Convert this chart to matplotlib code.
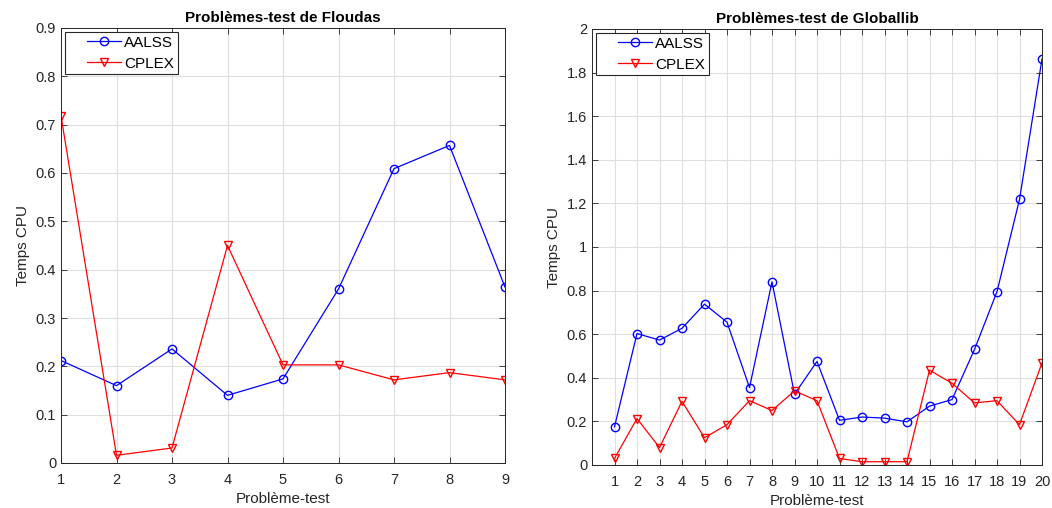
import matplotlib
matplotlib.use('Agg')
import matplotlib.pyplot as plt
from matplotlib.legend_handler import HandlerLine2D

plt.rcParams['font.family'] = ['Liberation Sans', 'DejaVu Sans']
plt.rcParams['font.size'] = 10

# Floudas test problems
floudas_x = list(range(1, 10))
floudas_aalss = [0.212, 0.160, 0.236, 0.140, 0.174, 0.360, 0.609, 0.657, 0.364]
floudas_cplex = [0.718, 0.016, 0.031, 0.450, 0.203, 0.203, 0.172, 0.187, 0.172]

# Globallib test problems
glob_x = list(range(1, 21))
glob_aalss = [0.175, 0.603, 0.573, 0.627, 0.738, 0.655, 0.355, 0.840, 0.325, 0.475,
              0.205, 0.220, 0.215, 0.198, 0.270, 0.300, 0.530, 0.795, 1.218, 1.862]
glob_cplex = [0.030, 0.213, 0.080, 0.292, 0.125, 0.185, 0.295, 0.250, 0.340, 0.295,
              0.030, 0.015, 0.015, 0.015, 0.435, 0.375, 0.285, 0.295, 0.185, 0.468]

W, H = 1052, 508
fig = plt.figure(figsize=(W / 100, H / 100), dpi=100)
ax1 = fig.add_axes([61 / W, 1 - 463 / H, (505 - 61) / W, (463 - 28) / H])
ax2 = fig.add_axes([592 / W, 1 - 465 / H, (1042 - 592) / W, (465 - 29) / H])

tick_col = '#262626'


class ShortLine(HandlerLine2D):
    # matlab style: line drawn in the right part of the handle box
    def create_artists(self, legend, orig, xdescent, ydescent, width, height,
                       fontsize, trans):
        arts = super().create_artists(legend, orig, xdescent, ydescent, width,
                                      height, fontsize, trans)
        x0 = -xdescent + 0.36 * width
        x1 = -xdescent + width
        for a in arts:
            n = len(a.get_xdata())
            if n == 3:
                a.set_xdata([x0, (x0 + x1) / 2, x1])
            elif n == 2:
                a.set_xdata([x0, x1])
            else:
                a.set_xdata([(x0 + x1) / 2] * n)
        return arts


def style(ax):
    ax.grid(True, color='#dfdfdf', linewidth=0.8)
    ax.set_axisbelow(True)
    ax.tick_params(direction='in', top=True, right=True, colors=tick_col,
                   labelsize=10.5, length=4, width=0.6)
    ax.tick_params(axis='x', pad=7)
    for s in ax.spines.values():
        s.set_color(tick_col)
        s.set_linewidth(0.7)
    ax.set_ylabel('Temps CPU', color=tick_col, fontsize=11)
    ax.set_xlabel('Problème-test', color=tick_col, fontsize=11, labelpad=4)
    leg = ax.legend(loc='upper left', fancybox=False, framealpha=1,
                    edgecolor='#262626', fontsize=11, borderaxespad=0.25,
                    handlelength=3.4, handletextpad=0.25, borderpad=0.25,
                    labelspacing=0.45, handler_map={plt.Line2D: ShortLine()})
    leg.get_frame().set_linewidth(0.8)


ax1.plot(floudas_x, floudas_aalss, color='blue', marker='o', mfc='none',
         ms=6, lw=0.9, label='AALSS')
ax1.plot(floudas_x, floudas_cplex, color='red', marker='v', mfc='none',
         ms=6, lw=0.9, label='CPLEX')
ax1.set_xlim(1, 9)
ax1.set_ylim(0, 0.9)
ax1.set_xticks(floudas_x)
ax1.set_yticks([i / 10 for i in range(10)])
ax1.set_yticklabels(['0'] + ['%.1f' % (i / 10) for i in range(1, 10)])
ax1.set_title('Problèmes-test de Floudas', fontweight='bold', fontsize=11, pad=4)
style(ax1)

ax2.plot(glob_x, glob_aalss, color='blue', marker='o', mfc='none',
         ms=6, lw=0.9, label='AALSS')
ax2.plot(glob_x, glob_cplex, color='red', marker='v', mfc='none',
         ms=6, lw=0.9, label='CPLEX')
ax2.set_xlim(0, 20)
ax2.set_ylim(0, 2)
ax2.set_xticks(glob_x)
yt = [i * 0.2 for i in range(11)]
ax2.set_yticks(yt)
ax2.set_yticklabels(['0', '0.2', '0.4', '0.6', '0.8', '1', '1.2', '1.4', '1.6', '1.8', '2'])
ax2.set_title('Problèmes-test de Globallib', fontweight='bold', fontsize=11, pad=4)
style(ax2)

fig.savefig('out.png', dpi=100)
